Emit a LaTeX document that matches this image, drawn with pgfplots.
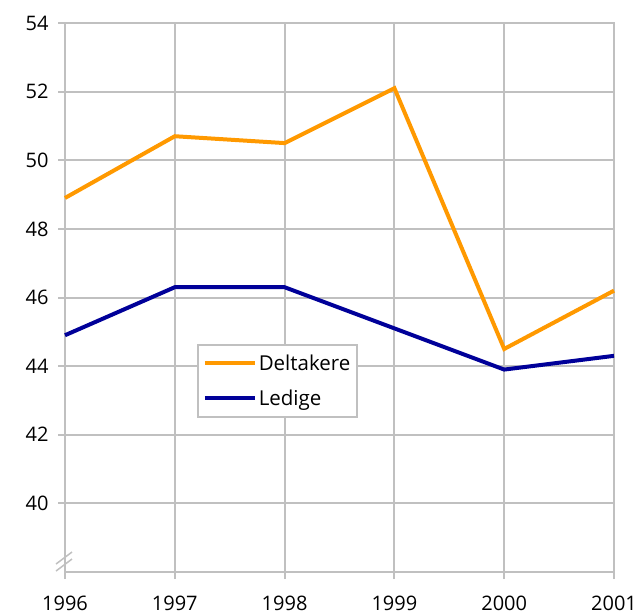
\documentclass[border=0pt]{standalone}
\usepackage{pgfplots}
\pgfplotsset{compat=1.18}
\usepackage{fontspec}
\setmainfont{Open Sans}
\definecolor{gridgray}{RGB}{192,192,192}
\definecolor{orangeL}{RGB}{255,153,0}
\definecolor{navyL}{RGB}{0,0,153}
\begin{document}
\begin{tikzpicture}
\begin{axis}[
  scale only axis,
  width=549pt, height=549pt,
  xmin=1996, xmax=2001,
  ymin=38, ymax=54,
  xtick={1996,1997,1998,1999,2000,2001},
  ytick={40,42,44,46,48,50,52,54},
  x tick label style={/pgf/number format/1000 sep={}},
  /pgf/number format/assume math mode=true,
  xticklabel style={font=\fontsize{20}{24}\selectfont, yshift=-13pt},
  yticklabel style={font=\fontsize{20}{24}\selectfont, xshift=-6pt},
  grid=major,
  grid style={gridgray, line width=2pt},
  axis line style={gridgray, line width=2pt},
  tick style={gridgray, line width=2pt},
  tick align=outside,
  major tick length=7pt,
  xtick pos=bottom, ytick pos=left,
  legend style={at={(rel axis cs:0.240,0.416)}, anchor=north west,
    draw=gridgray, line width=2pt, font=\fontsize{20.5}{24}\selectfont,
    inner xsep=5pt, inner ysep=8pt, row sep=14pt},
  legend cell align=left,
  legend image code/.code={\draw[#1, line width=4pt] (0pt,0pt) -- (50pt,0pt);},
  clip=false,
]
\addplot[orangeL, line width=4pt] coordinates {
(1996,48.9) (1997,50.7) (1998,50.5) (1999,52.1) (2000,44.5) (2001,46.2)};
\addlegendentry{Deltakere}
\addplot[navyL, line width=4pt] coordinates {
(1996,44.9) (1997,46.3) (1998,46.3) (1999,45.1) (2000,43.9) (2001,44.3)};
\addlegendentry{Ledige}
\coordinate (ll) at (rel axis cs:0,0);
\coordinate (ur) at (rel axis cs:1,1);
\draw[gridgray, line width=1.5pt] ([shift={(-9pt,1pt)}]rel axis cs:0,0) -- ([shift={(7pt,13pt)}]rel axis cs:0,0);
\draw[gridgray, line width=1.5pt] ([shift={(-9pt,8pt)}]rel axis cs:0,0) -- ([shift={(7pt,20pt)}]rel axis cs:0,0);
\end{axis}
\pgfresetboundingbox
\path ([shift={(-65pt,-42pt)}]ll) rectangle ([shift={(23pt,23pt)}]ur);
\end{tikzpicture}
\end{document}
